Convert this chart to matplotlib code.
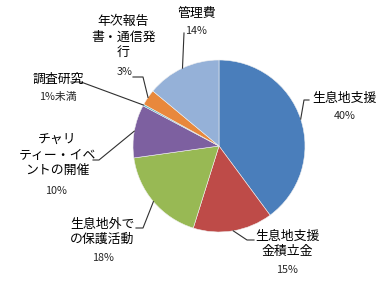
import matplotlib.pyplot as plt
import numpy as np

plt.rcParams['font.family'] = ['Noto Sans CJK JP', 'DejaVu Sans']

# データ
labels = ['生息地支援', '生息地支援\n金積立金', '生息地外で\nの保護活動', 'チャリ\nティー・イベ\nントの開催',
          '調査研究', '年次報告\n書・通信発\n行', '管理費']
values = [40, 15, 18, 10, 0.3, 3, 14]
pct_labels = ['40%', '15%', '18%', '10%', '1%未満', '3%', '14%']
colors = ['#4A7EBB', '#BE4B48', '#98B954', '#7D60A0', '#4BACC6', '#E8883C', '#95B1D8']

W, H = 386, 281
cx, cy, R = 219, H - 146, 86

# ラベル位置 (画像座標): 名前の中心, パーセントの中心, 引き出し線の端, 横線の向き
name_pos = [(344, 98), (287, 244), (102, 232), (57, 155), (58, 79), (123, 37), (197, 13)]
pct_pos = [(345, 116), (287, 270), (103, 258), (56, 191), (58, 97), (125, 72), (196, 31)]
leader_end = [(309, 100), (254, 240), (136, 228), (93, 160), (71, 82), (133, 77), (184, 33)]
tick = [-5, -7, 7, 6, 10, 10, 0]

fig = plt.figure(figsize=(W / 100, H / 100), dpi=100)
ax = fig.add_axes([0, 0, 1, 1])

wedges, _ = ax.pie(values, colors=colors, startangle=90, counterclock=False,
                   center=(cx, cy), radius=R,
                   wedgeprops=dict(edgecolor='#F0F0F0', linewidth=0.4))

for i, w in enumerate(wedges):
    mid = np.deg2rad((w.theta1 + w.theta2) / 2)
    ex, ey = cx + R * np.cos(mid), cy + R * np.sin(mid)
    lx, ly = leader_end[i]
    ly = H - ly
    ax.plot([lx, lx + tick[i], ex], [ly, ly, ey], color='#303030', lw=0.8, zorder=3)
    nx, ny = name_pos[i]
    ax.text(nx, H - ny, labels[i], ha='center', va='center', fontsize=9.3,
            linespacing=1.25, color='black')
    px, py = pct_pos[i]
    ax.text(px, H - py, pct_labels[i], ha='center', va='center', fontsize=7.8,
            color='#262626')

ax.set_xlim(0, W)
ax.set_ylim(0, H)
ax.set_aspect('equal')
ax.axis('off')

fig.savefig('out.png', dpi=100)
